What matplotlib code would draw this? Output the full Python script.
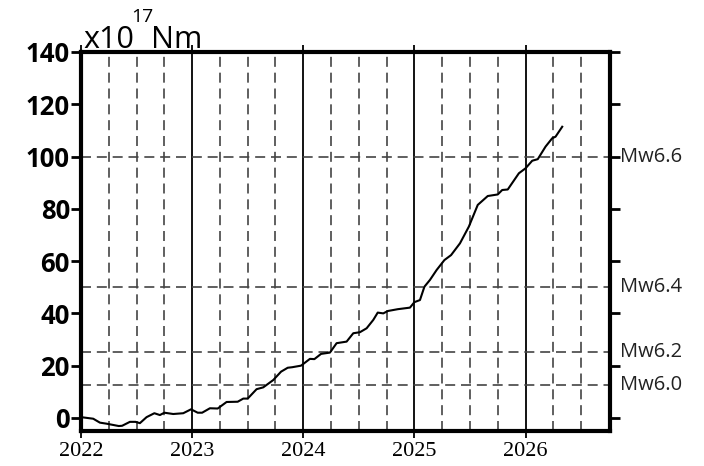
import matplotlib
matplotlib.use("Agg")
import matplotlib.pyplot as plt
import numpy as np

# cumulative moment release, x10^17 Nm
years = [2022.00, 2022.11, 2022.17, 2022.23, 2022.34, 2022.37, 2022.44, 2022.49, 2022.53, 2022.59,
         2022.66, 2022.71, 2022.75, 2022.83, 2022.92, 2022.99,
         2023.05, 2023.09, 2023.16, 2023.23, 2023.31, 2023.41, 2023.46, 2023.50, 2023.58, 2023.64,
         2023.73, 2023.80, 2023.86, 2023.90, 2023.98,
         2024.06, 2024.10, 2024.16, 2024.24, 2024.30, 2024.39, 2024.45, 2024.51, 2024.57, 2024.63,
         2024.67, 2024.72, 2024.76, 2024.85, 2024.96,
         2025.00, 2025.05, 2025.09, 2025.14, 2025.20, 2025.27, 2025.33, 2025.41, 2025.49, 2025.57,
         2025.66, 2025.75, 2025.79, 2025.84, 2025.94,
         2026.00, 2026.06, 2026.11, 2026.18, 2026.24, 2026.27, 2026.33]
moment = [0.3, -0.3, -1.8, -2.2, -3.1, -3.0, -1.5, -1.5, -2.0, 0.3,
          1.8, 1.1, 2.0, 1.5, 1.8, 3.3,
          2.0, 2.0, 3.7, 3.6, 6.1, 6.2, 7.4, 7.4, 11.0, 11.7,
          14.5, 17.7, 19.2, 19.4, 20.0,
          22.6, 22.5, 24.5, 25.0, 28.6, 29.2, 32.4, 32.8, 34.3, 37.5,
          40.3, 40.0, 40.9, 41.6, 42.2,
          44.3, 45.1, 50.2, 52.8, 56.6, 60.4, 62.3, 66.8, 73.2, 81.5,
          84.9, 85.5, 87.2, 87.4, 93.6,
          95.5, 98.4, 99.0, 103.8, 107.0, 107.6, 111.4]

year_ticks = [2022, 2023, 2024, 2025, 2026]
quarter_lines = [y + q for y in range(2022, 2027) for q in (0.25, 0.5, 0.75)]
y_ticks = [0, 20, 40, 60, 80, 100, 120, 140]
mw_labels = ["Mw6.0", "Mw6.2", "Mw6.4", "Mw6.6"]
mw_levels = [12.6, 25.1, 50.1, 100.0]

W, H = 704, 466
fig = plt.figure(figsize=(W / 100, H / 100), dpi=100)
ax = fig.add_axes([81 / W, 1 - 431 / H, (610 - 81) / W, (431 - 52) / H])

ax.set_xlim(2022, 2026.76)
ax.set_ylim(-5, 140)

# grid
dash = (0, (6, 3.5))
for q in quarter_lines:
    if q < 2026.76:
        ax.axvline(q, color="#444444", lw=1.2, ls=dash, zorder=1)
for y in year_ticks[1:]:
    ax.axvline(y, color="black", lw=1.3, zorder=1)
for lev in mw_levels:
    ax.axhline(lev, color="#444444", lw=1.2, ls=dash, zorder=1)

ax.plot(years, moment, color="black", lw=1.5, zorder=3)

for s in ax.spines.values():
    s.set_linewidth(3)

ax.set_yticks(y_ticks)
ax.set_yticklabels([str(v) for v in y_ticks], fontfamily="Open Sans",
                   fontweight="bold", fontsize=18.5)
ax.tick_params(axis="y", which="both", direction="out", length=7, width=2,
               right=True, labelright=False, pad=1)
ax.set_xticks(year_ticks)
ax.set_xticklabels([str(y) for y in year_ticks], fontfamily="Liberation Serif", fontsize=16)
ax.tick_params(axis="x", direction="out", length=5, width=1.3, top=True, pad=3)

# magnitude labels on the right
for lab, lev in zip(mw_labels, mw_levels):
    ax.text(1.019, lev, lab, transform=ax.get_yaxis_transform(), fontfamily="Open Sans",
            fontsize=14.5, va="center", ha="left", color="#222222")

# unit label
fig.text(83 / W, 1 - 48 / H, "x10", fontfamily="Open Sans", fontsize=22, va="baseline")
fig.text(131 / W, 1 - 22 / H, "17", fontfamily="Open Sans", fontsize=14, va="baseline")
fig.text(151 / W, 1 - 48 / H, "Nm", fontfamily="Open Sans", fontsize=22, va="baseline")

fig.savefig("out.png", dpi=100)
